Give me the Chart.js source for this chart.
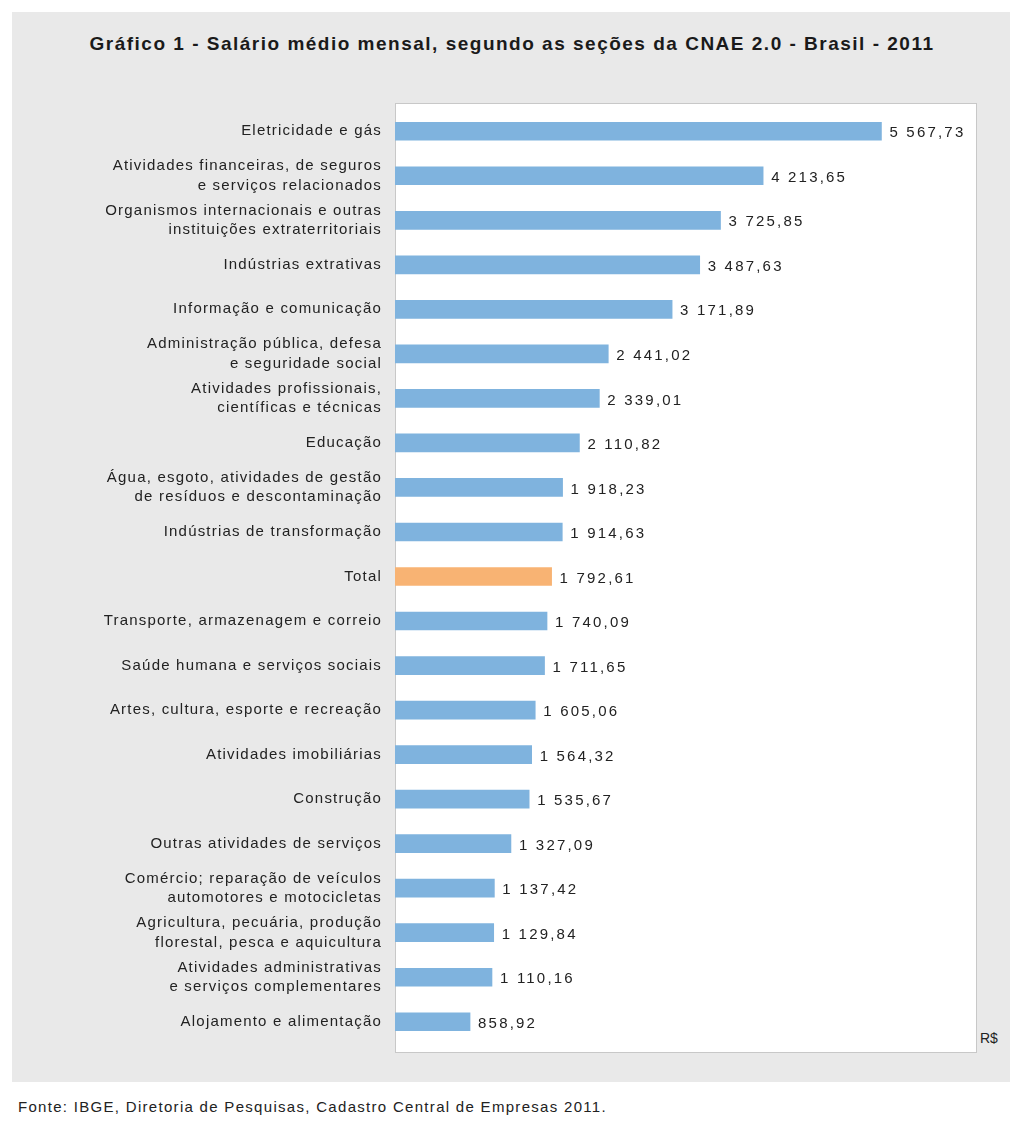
<!DOCTYPE html>
<html>
<head>
<meta charset="utf-8">
<script src="https://cdn.jsdelivr.net/npm/chart.js@4"></script>
<style>
  body { margin: 0; background: #fff; font-family: "Liberation Sans", Arial, sans-serif; }
  #page { position: relative; width: 1024px; height: 1127px; }
  #panel { position: absolute; left: 12px; top: 12px; width: 998px; height: 1070px; background: #e9e9e9; }
  #box { position: absolute; left: 395px; top: 103px; width: 580px; height: 948px; background: #fff; border: 1px solid #c8c8c8; }
  #title { position: absolute; left: 0; width: 1024px; top: 33px; text-align: center; font-weight: bold; font-size: 19px; letter-spacing: 1.5px; color: #1a1a1a; }
  #unit { position: absolute; left: 980px; top: 1030px; font-size: 14px; color: #222; }
  #source { position: absolute; left: 18px; top: 1098px; font-size: 15px; letter-spacing: 1.3px; color: #222; }
  #wrap { position: absolute; left: 0; top: 0; width: 1024px; height: 1127px; }
</style>
</head>
<body>
<div id="page">
  <div id="panel"></div>
  <div id="box"></div>
  <div id="title">Gráfico 1 - Salário médio mensal, segundo as seções da CNAE 2.0 - Brasil - 2011</div>
  <div id="unit">R$</div>
  <div id="source">Fonte: IBGE, Diretoria de Pesquisas, Cadastro Central de Empresas 2011.</div>
  <div id="wrap"><canvas id="chart"></canvas></div>
</div>
<script>
// categories (multi-line labels as arrays)
const categories = [
  'Eletricidade e gás',
  ['Atividades financeiras, de seguros', 'e serviços relacionados'],
  ['Organismos internacionais e outras', 'instituições extraterritoriais'],
  'Indústrias extrativas',
  'Informação e comunicação',
  ['Administração pública, defesa', 'e seguridade social'],
  ['Atividades profissionais,', 'científicas e técnicas'],
  'Educação',
  ['Água, esgoto, atividades de gestão', 'de resíduos e descontaminação'],
  'Indústrias de transformação',
  'Total',
  'Transporte, armazenagem e correio',
  'Saúde humana e serviços sociais',
  'Artes, cultura, esporte e recreação',
  'Atividades imobiliárias',
  'Construção',
  'Outras atividades de serviços',
  ['Comércio; reparação de veículos', 'automotores e motocicletas'],
  ['Agricultura, pecuária, produção', 'florestal, pesca e aquicultura'],
  ['Atividades administrativas', 'e serviços complementares'],
  'Alojamento e alimentação'
];

const salaries = [5567.73, 4213.65, 3725.85, 3487.63, 3171.89, 2441.02, 2339.01, 2110.82,
  1918.23, 1914.63, 1792.61, 1740.09, 1711.65, 1605.06, 1564.32, 1535.67, 1327.09,
  1137.42, 1129.84, 1110.16, 858.92];

const highlight = 'Total';

const colors = categories.map(c => c === highlight ? '#f8b373' : '#7fb3de');

function fmt(v) {
  const parts = v.toFixed(2).split('.');
  const int = parts[0].replace(/\B(?=(\d{3})+(?!\d))/g, ' ');
  return int + ',' + parts[1];
}

// wider spacing like the original typeface
const spacing = {
  id: 'spacing',
  beforeDraw(chart) { chart.ctx.letterSpacing = '1.2px'; }
};

const valueLabels = {
  id: 'valueLabels',
  afterDatasetsDraw(chart) {
    const ctx = chart.ctx;
    const meta = chart.getDatasetMeta(0);
    ctx.save();
    ctx.letterSpacing = '2.2px';
    ctx.font = '15px "Liberation Sans", Arial, sans-serif';
    ctx.fillStyle = '#222';
    ctx.textBaseline = 'middle';
    meta.data.forEach((bar, i) => {
      ctx.fillText(fmt(salaries[i]), bar.x + 8, bar.y + 2);
    });
    ctx.restore();
  }
};

new Chart(document.getElementById('chart'), {
  type: 'bar',
  data: {
    labels: categories,
    datasets: [{
      data: salaries,
      backgroundColor: colors,
      barThickness: 18
    }]
  },
  options: {
    indexAxis: 'y',
    responsive: true,
    maintainAspectRatio: false,
    animation: false,
    layout: { padding: { left: 0, right: 48, top: 109, bottom: 83 } },
    plugins: { legend: { display: false }, tooltip: { enabled: false } },
    scales: {
      x: {
        min: 0, max: 6650,
        display: false,
        grid: { display: false }
      },
      y: {
        grid: { display: false },
        border: { display: false },
        afterFit(s) { s.width = 395; },
        ticks: {
          padding: 5,
          color: '#222',
          font: { size: 15, family: '"Liberation Sans", Arial, sans-serif', lineHeight: 1.3 }
        }
      }
    }
  },
  plugins: [spacing, valueLabels]
});
</script>
</body>
</html>
